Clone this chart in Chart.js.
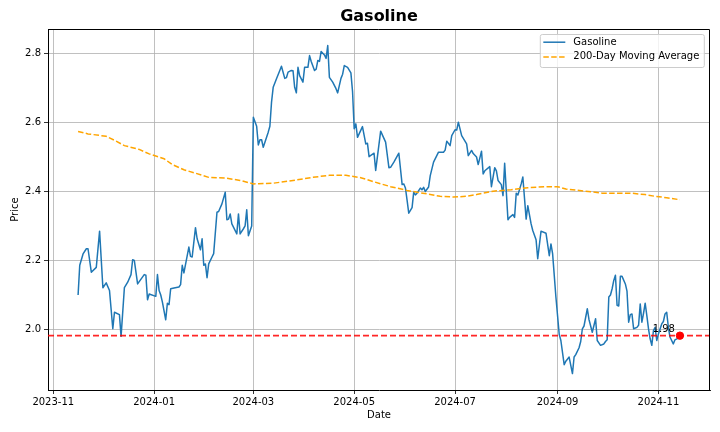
<!DOCTYPE html>
<html>
<head>
<meta charset="utf-8">
<title>Gasoline</title>
<script src="https://cdn.jsdelivr.net/npm/chart.js@4.4.1/dist/chart.umd.min.js"></script>
<style>
  html, body { margin: 0; padding: 0; background: #fff; }
  #wrap { width: 720px; height: 432px; }
</style>
</head>
<body>
<div id="wrap"><canvas id="priceChart" width="720" height="432"></canvas></div>
<script>
// Preço diário (data, valor)
const priceDates = [
  '2023-11-16','2023-11-17','2023-11-19','2023-11-21','2023-11-22','2023-11-24','2023-11-27','2023-11-29',
  '2023-12-01','2023-12-03','2023-12-05','2023-12-07','2023-12-08','2023-12-11','2023-12-12','2023-12-14',
  '2023-12-16','2023-12-18','2023-12-19','2023-12-20','2023-12-22','2023-12-26','2023-12-27','2023-12-28',
  '2023-12-29','2024-01-02','2024-01-03','2024-01-04','2024-01-05','2024-01-06','2024-01-08','2024-01-09',
  '2024-01-10','2024-01-11','2024-01-13','2024-01-16','2024-01-17','2024-01-18','2024-01-19','2024-01-22',
  '2024-01-23','2024-01-24','2024-01-26','2024-01-27','2024-01-29','2024-01-30','2024-01-31','2024-02-01',
  '2024-02-02','2024-02-03','2024-02-05','2024-02-06','2024-02-08','2024-02-09','2024-02-11','2024-02-13',
  '2024-02-14','2024-02-15','2024-02-16','2024-02-17','2024-02-20','2024-02-21','2024-02-22','2024-02-24',
  '2024-02-25','2024-02-26','2024-02-27','2024-02-29','2024-03-01','2024-03-03','2024-03-04','2024-03-05',
  '2024-03-06','2024-03-07','2024-03-10','2024-03-11','2024-03-12','2024-03-13','2024-03-15','2024-03-17',
  '2024-03-18','2024-03-20','2024-03-21','2024-03-22','2024-03-24','2024-03-25','2024-03-26','2024-03-27',
  '2024-03-28','2024-03-29','2024-03-31','2024-04-01','2024-04-03','2024-04-04','2024-04-05','2024-04-07',
  '2024-04-08','2024-04-09','2024-04-10','2024-04-11','2024-04-13','2024-04-14','2024-04-15','2024-04-16',
  '2024-04-18','2024-04-20','2024-04-21','2024-04-23','2024-04-24','2024-04-25','2024-04-27','2024-04-29',
  '2024-04-30','2024-05-01','2024-05-02','2024-05-03','2024-05-06','2024-05-08','2024-05-09','2024-05-10',
  '2024-05-13','2024-05-14','2024-05-17','2024-05-20','2024-05-22','2024-05-23','2024-05-25','2024-05-28',
  '2024-05-30','2024-05-31','2024-06-01','2024-06-02','2024-06-03','2024-06-05','2024-06-06','2024-06-07',
  '2024-06-08','2024-06-10','2024-06-11','2024-06-12','2024-06-13','2024-06-15','2024-06-16','2024-06-18',
  '2024-06-21','2024-06-24','2024-06-25','2024-06-26','2024-06-28','2024-06-29','2024-07-01','2024-07-02',
  '2024-07-03','2024-07-05','2024-07-08','2024-07-09','2024-07-11','2024-07-12','2024-07-14','2024-07-15',
  '2024-07-17','2024-07-18','2024-07-19','2024-07-22','2024-07-23','2024-07-25','2024-07-26','2024-07-27',
  '2024-07-29','2024-07-30','2024-07-31','2024-08-02','2024-08-03','2024-08-05','2024-08-06','2024-08-07',
  '2024-08-08','2024-08-10','2024-08-11','2024-08-13','2024-08-14','2024-08-16','2024-08-17','2024-08-19',
  '2024-08-20','2024-08-22','2024-08-25','2024-08-27','2024-08-28','2024-08-29','2024-08-31','2024-09-02',
  '2024-09-03','2024-09-05','2024-09-06','2024-09-08','2024-09-10','2024-09-11','2024-09-12','2024-09-14',
  '2024-09-15','2024-09-16','2024-09-17','2024-09-19','2024-09-20','2024-09-22','2024-09-24','2024-09-25',
  '2024-09-27','2024-09-29','2024-09-30','2024-10-01','2024-10-02','2024-10-03','2024-10-04','2024-10-05',
  '2024-10-06','2024-10-07','2024-10-08','2024-10-09','2024-10-10','2024-10-12','2024-10-13','2024-10-14',
  '2024-10-15','2024-10-16','2024-10-17','2024-10-19','2024-10-20','2024-10-21','2024-10-22','2024-10-23',
  '2024-10-24','2024-10-25','2024-10-26','2024-10-27','2024-10-28','2024-10-29','2024-10-30','2024-10-31',
  '2024-11-01','2024-11-03','2024-11-04','2024-11-05','2024-11-06','2024-11-07','2024-11-08','2024-11-10',
  '2024-11-11','2024-11-13','2024-11-14'
];
const priceValues = [
  2.100, 2.186, 2.219, 2.234, 2.234, 2.166, 2.180, 2.285,
  2.121, 2.135, 2.113, 2.002, 2.050, 2.043, 1.980, 2.121,
  2.137, 2.159, 2.202, 2.200, 2.132, 2.159, 2.157, 2.086,
  2.103, 2.096, 2.159, 2.113, 2.100, 2.079, 2.028, 2.076,
  2.072, 2.118, 2.120, 2.123, 2.130, 2.186, 2.164, 2.239,
  2.212, 2.210, 2.295, 2.263, 2.231, 2.263, 2.186, 2.190,
  2.150, 2.190, 2.210, 2.220, 2.340, 2.342, 2.364, 2.398,
  2.318, 2.320, 2.335, 2.306, 2.277, 2.335, 2.277, 2.292,
  2.300, 2.347, 2.272, 2.300, 2.615, 2.589, 2.535, 2.550,
  2.550, 2.528, 2.572, 2.589, 2.659, 2.702, 2.727, 2.751,
  2.763, 2.728, 2.730, 2.746, 2.751, 2.750, 2.702, 2.686,
  2.760, 2.736, 2.717, 2.760, 2.760, 2.794, 2.777, 2.751,
  2.755, 2.780, 2.777, 2.806, 2.796, 2.786, 2.823, 2.731,
  2.717, 2.698, 2.686, 2.728, 2.740, 2.765, 2.760, 2.744,
  2.690, 2.582, 2.596, 2.557, 2.588, 2.538, 2.540, 2.501,
  2.511, 2.461, 2.575, 2.543, 2.469, 2.470, 2.485, 2.511,
  2.420, 2.422, 2.410, 2.374, 2.337, 2.353, 2.398, 2.390,
  2.395, 2.410, 2.405, 2.412, 2.400, 2.413, 2.446, 2.485,
  2.514, 2.514, 2.520, 2.546, 2.533, 2.562, 2.579, 2.578,
  2.601, 2.562, 2.538, 2.504, 2.519, 2.510, 2.500, 2.478,
  2.517, 2.451, 2.460, 2.472, 2.414, 2.469, 2.460, 2.432,
  2.420, 2.388, 2.482, 2.318, 2.325, 2.333, 2.325, 2.395,
  2.390, 2.422, 2.442, 2.320, 2.359, 2.306, 2.287, 2.260,
  2.205, 2.285, 2.279, 2.214, 2.248, 2.220, 2.094, 1.986,
  1.968, 1.898, 1.908, 1.920, 1.872, 1.920, 1.927, 1.947,
  1.965, 2.002, 2.010, 2.060, 2.029, 1.992, 2.031, 1.968,
  1.954, 1.958, 1.965, 1.970, 2.094, 2.100, 2.118, 2.142,
  2.157, 2.070, 2.068, 2.154, 2.154, 2.132, 2.111, 2.021,
  2.043, 2.045, 2.002, 2.006, 2.012, 2.074, 2.021, 2.047,
  2.076, 2.040, 2.002, 1.973, 1.954, 1.997, 2.006, 1.968,
  1.987, 2.016, 2.023, 2.045, 2.050, 2.007, 1.978, 1.958,
  1.970, 1.975, 1.982
];

// Média móvel de 200 dias
const maDates = [
  '2023-11-16','2023-11-22','2023-12-03','2023-12-09','2023-12-14','2023-12-23','2023-12-29','2024-01-07',
  '2024-01-12','2024-01-19','2024-01-26','2024-02-03','2024-02-13','2024-02-22','2024-03-01','2024-03-13',
  '2024-03-25','2024-04-06','2024-04-16','2024-04-26','2024-05-05','2024-05-13','2024-05-23','2024-06-02',
  '2024-06-14','2024-06-22','2024-06-30','2024-07-08','2024-07-14','2024-07-24','2024-08-04','2024-08-14',
  '2024-08-24','2024-09-01','2024-09-06','2024-09-18','2024-09-28','2024-10-06','2024-10-16','2024-10-24',
  '2024-10-30','2024-11-06','2024-11-14'
];
const maValues = [
  2.574, 2.567, 2.560, 2.546, 2.533, 2.522, 2.509, 2.495,
  2.478, 2.463, 2.453, 2.441, 2.439, 2.432, 2.422, 2.424,
  2.432, 2.441, 2.447, 2.447, 2.440, 2.428, 2.414, 2.403,
  2.393, 2.386, 2.384, 2.386, 2.391, 2.401, 2.405, 2.411,
  2.414, 2.414, 2.407, 2.401, 2.395, 2.395, 2.395, 2.391,
  2.386, 2.382, 2.376
];

const xTickLabels = ['2023-11', '2024-01', '2024-03', '2024-05', '2024-07', '2024-09', '2024-11'];
const yTickValues = [2.0, 2.2, 2.4, 2.6, 2.8];

// converte 'AAAA-MM-DD' em dias desde 1970
function toDay(s) {
    return Date.UTC(+s.slice(0, 4), +s.slice(5, 7) - 1, +s.slice(8, 10) || 1) / 86400000;
}

const pricePoints = priceDates.map((d, i) => ({ x: toDay(d), y: priceValues[i] }));
const maPoints = maDates.map((d, i) => ({ x: toDay(d), y: maValues[i] }));
const lastPoint = pricePoints[pricePoints.length - 1];

// margens de 5% como no matplotlib
const firstX = pricePoints[0].x;
const xRange = lastPoint.x - firstX;
const xMin = firstX - 0.05 * xRange;
const xMax = lastPoint.x + 0.05 * xRange;
const allY = priceValues.concat(maValues);
const yLo = Math.min(...allY), yHi = Math.max(...allY);
const yMin = yLo - 0.05 * (yHi - yLo);
const yMax = yHi + 0.05 * (yHi - yLo);

const FONT = 'DejaVu Sans';
Chart.defaults.font.family = FONT;
Chart.defaults.font.size = 10;
Chart.defaults.color = '#000';

// legenda dentro do gráfico, rótulo do último preço e moldura superior/direita
const overlayPlugin = {
    id: 'overlay',
    afterDatasetsDraw(chart) {
        const ctx = chart.ctx;
        const area = chart.chartArea;
        const px = chart.scales.x.getPixelForValue(lastPoint.x);
        const py = chart.scales.y.getPixelForValue(lastPoint.y);

        ctx.save();
        ctx.font = '10px "' + FONT + '"';
        ctx.fillStyle = '#000';
        ctx.textAlign = 'right';
        ctx.textBaseline = 'alphabetic';
        ctx.fillText(lastPoint.y.toFixed(2), px - 5, py - 3.5);

        const items = chart.data.datasets.filter(d => d.inLegend);
        const textW = Math.max(...items.map(d => ctx.measureText(d.label).width));
        const rowH = 14.7;
        const boxW = 33 + textW + 5;
        const boxH = 33;
        const right = area.right - 5.7;
        const top = area.top + 5.3;
        const left = right - boxW;

        ctx.beginPath();
        if (ctx.roundRect) ctx.roundRect(left, top, boxW, boxH, 2);
        else ctx.rect(left, top, boxW, boxH);
        ctx.fillStyle = 'rgba(255,255,255,0.8)';
        ctx.fill();
        ctx.strokeStyle = '#cccccc';
        ctx.lineWidth = 1;
        ctx.stroke();

        items.forEach((d, i) => {
            const y = top + 7.7 + i * rowH;
            ctx.strokeStyle = d.borderColor;
            ctx.lineWidth = d.borderWidth;
            ctx.setLineDash(d.borderDash || []);
            ctx.beginPath();
            ctx.moveTo(left + 3, y);
            ctx.lineTo(left + 25, y);
            ctx.stroke();
            ctx.setLineDash([]);
            ctx.fillStyle = '#000';
            ctx.textAlign = 'left';
            ctx.textBaseline = 'middle';
            ctx.fillText(d.label, left + 33, y);
        });

        // moldura: topo e lado direito
        const t = Math.round(area.top) + 0.5;
        const r = Math.round(area.right) - 0.5;
        ctx.strokeStyle = '#000';
        ctx.lineWidth = 1;
        ctx.beginPath();
        ctx.moveTo(Math.round(area.left), t);
        ctx.lineTo(r, t);
        ctx.lineTo(r, Math.round(area.bottom));
        ctx.stroke();
        ctx.restore();
    }
};

const ctx = document.getElementById('priceChart').getContext('2d');

new Chart(ctx, {
    type: 'line',
    data: {
        datasets: [
            {
                label: 'Gasoline',
                data: pricePoints,
                borderColor: '#1f77b4',
                borderWidth: 1.5,
                borderJoinStyle: 'round',
                pointRadius: 0,
                tension: 0,
                inLegend: true,
                order: 3
            },
            {
                label: '200-Day Moving Average',
                data: maPoints,
                borderColor: '#ffa500',
                borderWidth: 1.5,
                borderDash: [5.5, 2.4],
                pointRadius: 0,
                tension: 0,
                inLegend: true,
                order: 2
            },
            {
                label: 'last',
                data: [{ x: xMin, y: lastPoint.y }, { x: xMax, y: lastPoint.y }],
                borderColor: 'rgba(255,0,0,0.85)',
                borderWidth: 1.8,
                borderDash: [6, 3],
                pointRadius: 0,
                order: 1
            },
            {
                type: 'scatter',
                label: 'dot',
                data: [lastPoint],
                backgroundColor: '#ff0000',
                borderColor: '#ff0000',
                pointRadius: 3.7,
                order: 0
            }
        ]
    },
    options: {
        responsive: false,
        animation: false,
        devicePixelRatio: 1,
        layout: { padding: { left: 0, right: 10, top: 0, bottom: 0 } },
        plugins: {
            legend: { display: false },
            tooltip: { enabled: false },
            title: {
                display: true,
                text: 'Gasoline',
                fullSize: false,
                color: '#000',
                font: { family: FONT, size: 16, weight: 'bold' },
                padding: { top: 7, bottom: 3 }
            }
        },
        scales: {
            x: {
                type: 'linear',
                min: xMin,
                max: xMax,
                afterFit: s => { s.height = 42; },
                afterBuildTicks: s => { s.ticks = xTickLabels.map(l => ({ value: toDay(l + '-01') })); },
                ticks: {
                    autoSkip: false,
                    maxRotation: 0,
                    minRotation: 0,
                    padding: 2,
                    color: '#000',
                    callback: (v, i) => xTickLabels[i]
                },
                grid: { color: '#b0b0b0', lineWidth: 0.8, tickLength: 4, tickColor: '#000' },
                border: { display: true, color: '#000', width: 1 },
                title: { display: true, text: 'Date', color: '#000', font: { size: 10 }, padding: { top: 0, bottom: 11 } }
            },
            y: {
                min: yMin,
                max: yMax,
                afterFit: s => { s.width = 48; },
                afterBuildTicks: s => { s.ticks = yTickValues.map(v => ({ value: v })); },
                ticks: {
                    padding: 3,
                    color: '#000',
                    callback: v => v.toFixed(1)
                },
                grid: { color: '#b0b0b0', lineWidth: 0.8, tickLength: 4, tickColor: '#000' },
                border: { display: true, color: '#000', width: 1 },
                title: { display: true, text: 'Price', color: '#000', font: { size: 10 }, padding: { top: 9, bottom: 0 } }
            }
        }
    },
    plugins: [overlayPlugin]
});
</script>
</body>
</html>
